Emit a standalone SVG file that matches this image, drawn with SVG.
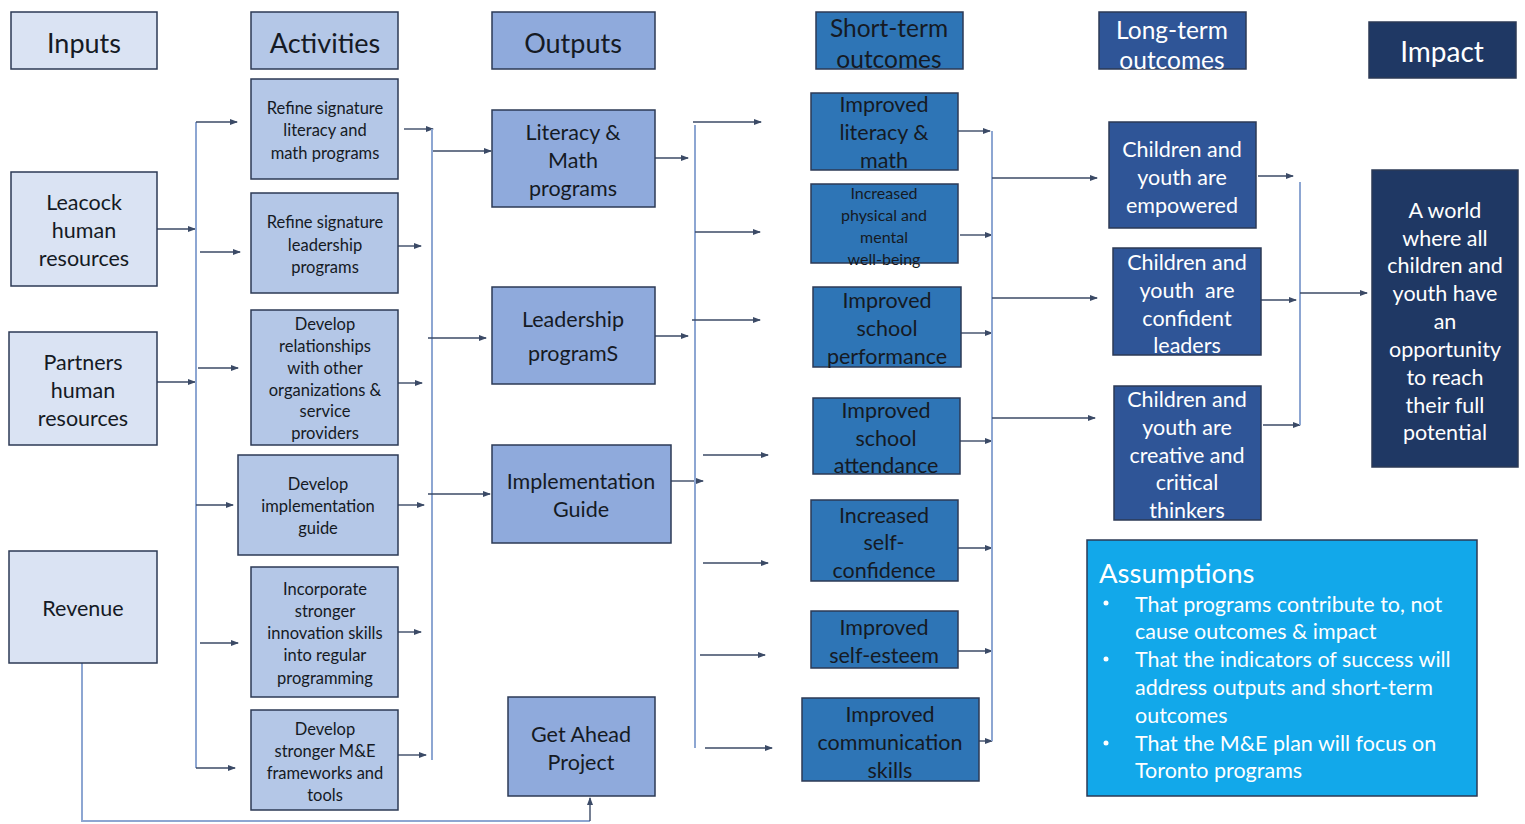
<svg xmlns="http://www.w3.org/2000/svg" width="1525" height="824" viewBox="0 0 1525 824">
<defs>
<marker id="ah" markerWidth="8" markerHeight="6" refX="7" refY="3" orient="auto" markerUnits="userSpaceOnUse">
<path d="M0,0 L8,3 L0,6 z" fill="#3b4a66"/>
</marker>
</defs>
<style>
text{font-family:Lato,"Open Sans","Liberation Sans",sans-serif;text-anchor:middle;dominant-baseline:central}
.box{stroke:#2c3a55;stroke-width:1.5}
.in{fill:#dae3f3}
.act{fill:#b4c7e7}
.out{fill:#8faadc}
.st{fill:#2e75b6}
.lt{fill:#2f5597}
.imp{fill:#1f3864}
.asm{fill:#12a8ea}
.dk{fill:#151a24}
.wh{fill:#ffffff}
.h{font-size:27px}
.h2{font-size:24.5px}
.m{font-size:21.5px}
.s{font-size:16.5px}
.xs{font-size:16px}
.arr{stroke:#3b4a66;stroke-width:1.4;fill:none;marker-end:url(#ah)}
.bus{stroke:#8da6d2;stroke-width:2;fill:none}
.asmt{text-anchor:start;font-size:21.5px}
</style>

<g id="connectors">
<path class="arr" d="M157,229 H195"/>
<path class="arr" d="M157,382 H195"/>
<path class="bus" d="M196,122 V768"/>
<path class="arr" d="M196,122 H237"/>
<path class="arr" d="M200,252 H240"/>
<path class="arr" d="M198,368 H238"/>
<path class="arr" d="M196,505 H233"/>
<path class="arr" d="M200,643 H238"/>
<path class="arr" d="M196,768 H235"/>
<path class="bus" d="M82,663 V821 H590"/>
<path class="arr" d="M590,821 V798"/>

<path class="arr" d="M404,129 H433"/>
<path class="arr" d="M398,246 H421"/>
<path class="arr" d="M398,383 H422"/>
<path class="arr" d="M398,505 H424"/>
<path class="arr" d="M398,632 H421"/>
<path class="arr" d="M398,755 H426"/>
<path class="bus" d="M432,129 V760"/>
<path class="arr" d="M433,151 H491"/>
<path class="arr" d="M428,338 H486"/>
<path class="arr" d="M428,494 H490"/>

<path class="arr" d="M655,158 H688"/>
<path class="arr" d="M655,336 H688"/>
<path class="arr" d="M671,481 H703"/>
<path class="bus" d="M695,125 V748"/>
<path class="arr" d="M693,122 H761"/>
<path class="arr" d="M695,232 H760"/>
<path class="arr" d="M692,320 H760"/>
<path class="arr" d="M703,455 H768"/>
<path class="arr" d="M703,563 H768"/>
<path class="arr" d="M700,655 H765"/>
<path class="arr" d="M705,748 H772"/>

<path class="arr" d="M958,131 H990"/>
<path class="arr" d="M960,235 H992"/>
<path class="arr" d="M961,333 H992"/>
<path class="arr" d="M960,441 H992"/>
<path class="arr" d="M958,548 H992"/>
<path class="arr" d="M958,651 H992"/>
<path class="arr" d="M979,741 H992"/>
<path class="bus" d="M992,131 V741"/>
<path class="arr" d="M992,178 H1097"/>
<path class="arr" d="M992,298 H1097"/>
<path class="arr" d="M992,418 H1095"/>

<path class="arr" d="M1258,176 H1293"/>
<path class="arr" d="M1261,300 H1296"/>
<path class="arr" d="M1263,425 H1300"/>
<path class="bus" d="M1300,182 V425"/>
<path class="arr" d="M1300,293 H1367"/>
</g>

<g id="hdr-inputs"><rect class="box in" x="11" y="12" width="146" height="57"/><text class="dk h" x="84" y="42">Inputs</text></g>
<g id="hdr-activities"><rect class="box act" x="251" y="12" width="147" height="57"/><text class="dk h" x="325" y="42">Activities</text></g>
<g id="hdr-outputs"><rect class="box out" x="492" y="12" width="163" height="57"/><text class="dk h" x="573" y="42">Outputs</text></g>
<g id="hdr-short"><rect class="box st" x="816" y="12" width="147" height="57"/><text class="dk h2" x="889" y="27">Short-term</text><text class="dk h2" x="889" y="58">outcomes</text></g>
<g id="hdr-long"><rect class="box lt" x="1099" y="12" width="147" height="57"/><text class="wh h2" x="1172" y="29">Long-term</text><text class="wh h2" x="1172" y="59">outcomes</text></g>
<g id="hdr-impact"><rect class="box imp" x="1369" y="22" width="147" height="56"/><text class="wh h" x="1442" y="51" style="font-size:28px">Impact</text></g>

<g id="in-leacock"><rect class="box in" x="11" y="172" width="146" height="114"/><text class="dk m" x="84" y="202">Leacock</text><text class="dk m" x="84" y="230">human</text><text class="dk m" x="84" y="258">resources</text></g>
<g id="in-partners"><rect class="box in" x="9" y="332" width="148" height="113"/><text class="dk m" x="83" y="362">Partners</text><text class="dk m" x="83" y="390">human</text><text class="dk m" x="83" y="418">resources</text></g>
<g id="in-revenue"><rect class="box in" x="9" y="551" width="148" height="112"/><text class="dk m" x="83" y="608">Revenue</text></g>

<g id="act-literacy"><rect class="box act" x="251" y="79" width="147" height="100"/><text class="dk s" x="325" y="108">Refine signature</text><text class="dk s" x="325" y="130">literacy and</text><text class="dk s" x="325" y="153">math programs</text></g>
<g id="act-leadership"><rect class="box act" x="251" y="193" width="147" height="100"/><text class="dk s" x="325" y="222">Refine signature</text><text class="dk s" x="325" y="245">leadership</text><text class="dk s" x="325" y="267">programs</text></g>
<g id="act-relationships"><rect class="box act" x="251" y="310" width="147" height="135"/><text class="dk s" x="325" y="324">Develop</text><text class="dk s" x="325" y="346">relationships</text><text class="dk s" x="325" y="368">with other</text><text class="dk s" x="325" y="390">organizations &amp;</text><text class="dk s" x="325" y="411">service</text><text class="dk s" x="325" y="433">providers</text></g>
<g id="act-guide"><rect class="box act" x="238" y="455" width="160" height="100"/><text class="dk s" x="318" y="484">Develop</text><text class="dk s" x="318" y="506">implementation</text><text class="dk s" x="318" y="528">guide</text></g>
<g id="act-innovation"><rect class="box act" x="251" y="567" width="147" height="130"/><text class="dk s" x="325" y="589">Incorporate</text><text class="dk s" x="325" y="611">stronger</text><text class="dk s" x="325" y="633">innovation skills</text><text class="dk s" x="325" y="655">into regular</text><text class="dk s" x="325" y="678">programming</text></g>
<g id="act-me"><rect class="box act" x="251" y="710" width="147" height="100"/><text class="dk s" x="325" y="729">Develop</text><text class="dk s" x="325" y="751">stronger M&amp;E</text><text class="dk s" x="325" y="773">frameworks and</text><text class="dk s" x="325" y="795">tools</text></g>

<g id="out-literacy"><rect class="box out" x="492" y="110" width="163" height="97"/><text class="dk m" x="573" y="132">Literacy &amp;</text><text class="dk m" x="573" y="160">Math</text><text class="dk m" x="573" y="188">programs</text></g>
<g id="out-leadership"><rect class="box out" x="492" y="287" width="163" height="97"/><text class="dk m" x="573" y="319">Leadership</text><text class="dk m" x="573" y="353">programS</text></g>
<g id="out-guide"><rect class="box out" x="492" y="445" width="179" height="98"/><text class="dk m" x="581" y="481">Implementation</text><text class="dk m" x="581" y="509">Guide</text></g>
<g id="out-getahead"><rect class="box out" x="508" y="697" width="147" height="99"/><text class="dk m" x="581" y="734">Get Ahead</text><text class="dk m" x="581" y="762">Project</text></g>

<g id="st-literacy"><rect class="box st" x="811" y="93" width="147" height="77"/><text class="dk m" x="884" y="104">Improved</text><text class="dk m" x="884" y="132">literacy &amp;</text><text class="dk m" x="884" y="160">math</text></g>
<g id="st-wellbeing"><rect class="box st" x="811" y="184" width="147" height="79"/><text class="dk xs" x="884" y="192">Increased</text><text class="dk xs" x="884" y="214">physical and</text><text class="dk xs" x="884" y="236">mental</text><text class="dk xs" x="884" y="258">well-being</text></g>
<g id="st-performance"><rect class="box st" x="813" y="287" width="148" height="80"/><text class="dk m" x="887" y="300">Improved</text><text class="dk m" x="887" y="328">school</text><text class="dk m" x="887" y="356">performance</text></g>
<g id="st-attendance"><rect class="box st" x="813" y="398" width="147" height="76"/><text class="dk m" x="886" y="410">Improved</text><text class="dk m" x="886" y="438">school</text><text class="dk m" x="886" y="465">attendance</text></g>
<g id="st-confidence"><rect class="box st" x="811" y="500" width="147" height="81"/><text class="dk m" x="884" y="515">Increased</text><text class="dk m" x="884" y="542">self-</text><text class="dk m" x="884" y="570">confidence</text></g>
<g id="st-esteem"><rect class="box st" x="811" y="611" width="147" height="57"/><text class="dk m" x="884" y="627">Improved</text><text class="dk m" x="884" y="655">self-esteem</text></g>
<g id="st-communication"><rect class="box st" x="802" y="698" width="177" height="83"/><text class="dk m" x="890" y="714">Improved</text><text class="dk m" x="890" y="742">communication</text><text class="dk m" x="890" y="770">skills</text></g>

<g id="lt-empowered"><rect class="box lt" x="1109" y="122" width="147" height="106"/><text class="wh m" x="1182" y="149">Children and</text><text class="wh m" x="1182" y="177">youth are</text><text class="wh m" x="1182" y="205">empowered</text></g>
<g id="lt-leaders"><rect class="box lt" x="1113" y="248" width="148" height="107"/><text class="wh m" x="1187" y="262">Children and</text><text class="wh m" x="1187" y="290" xml:space="preserve">youth  are</text><text class="wh m" x="1187" y="318">confident</text><text class="wh m" x="1187" y="345">leaders</text></g>
<g id="lt-thinkers"><rect class="box lt" x="1114" y="386" width="147" height="134"/><text class="wh m" x="1187" y="399">Children and</text><text class="wh m" x="1187" y="427">youth are</text><text class="wh m" x="1187" y="455">creative and</text><text class="wh m" x="1187" y="482">critical</text><text class="wh m" x="1187" y="510">thinkers</text></g>

<g id="impact"><rect class="box imp" x="1372" y="170" width="146" height="297"/><text class="wh m" x="1445" y="210">A world</text><text class="wh m" x="1445" y="238">where all</text><text class="wh m" x="1445" y="265">children and</text><text class="wh m" x="1445" y="293">youth have</text><text class="wh m" x="1445" y="321">an</text><text class="wh m" x="1445" y="349">opportunity</text><text class="wh m" x="1445" y="377">to reach</text><text class="wh m" x="1445" y="405">their full</text><text class="wh m" x="1445" y="432">potential</text></g>

<g id="assumptions"><rect class="box asm" x="1087" y="540" width="390" height="256"/>
<text class="wh" x="1099" y="572" style="text-anchor:start;font-size:27.5px">Assumptions</text>
<circle cx="1106" cy="603" r="2.5" fill="#ffffff"/><circle cx="1106" cy="659" r="2.5" fill="#ffffff"/><circle cx="1106" cy="743" r="2.5" fill="#ffffff"/>
<text class="wh asmt" x="1135" y="604">That programs contribute to, not</text>
<text class="wh asmt" x="1135" y="631">cause outcomes &amp; impact</text>
<text class="wh asmt" x="1135" y="659">That the indicators of success will</text>
<text class="wh asmt" x="1135" y="687">address outputs and short-term</text>
<text class="wh asmt" x="1135" y="715">outcomes</text>
<text class="wh asmt" x="1135" y="743">That the M&amp;E plan will focus on</text>
<text class="wh asmt" x="1135" y="770">Toronto programs</text>
</g>
</svg>
